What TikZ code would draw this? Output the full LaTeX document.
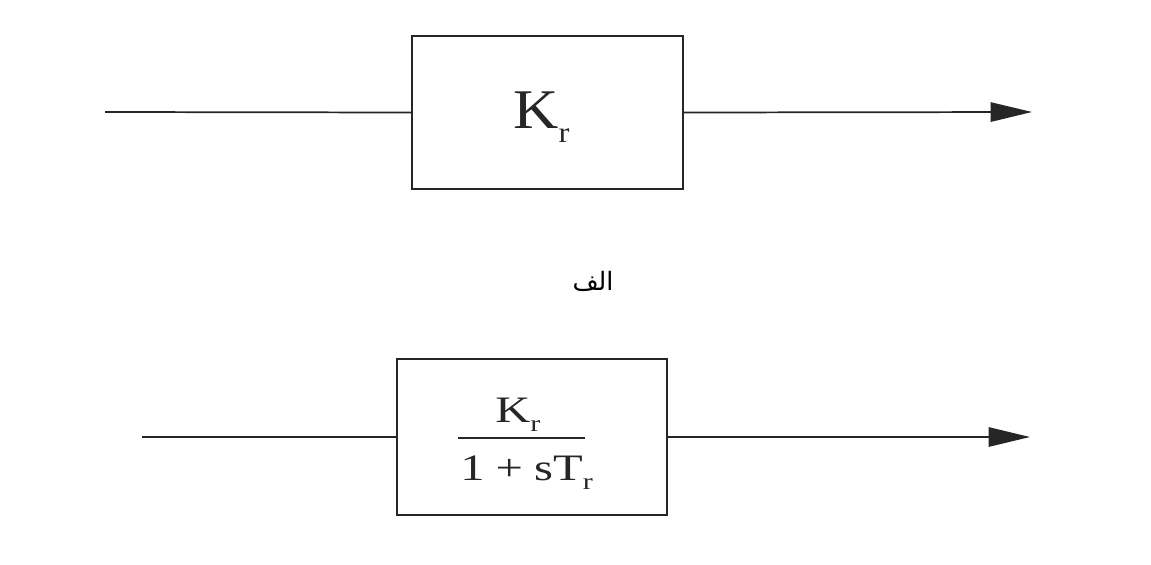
\documentclass[tikz,border=0pt]{standalone}
\usepackage{fontspec}
\setmainfont{Liberation Serif}
\newfontfamily\arabicfont[Script=Arabic]{DejaVu Sans}
\TeXXeTstate=1
\usetikzlibrary{arrows.meta}
\definecolor{ink}{HTML}{262626}
\newcommand\subr[2]{\raisebox{-0.25em}{\scalebox{#1}{#2}}}
\begin{document}
\begin{tikzpicture}[x=0.75pt,y=-0.75pt,
  blockbox/.style={draw=ink,line width=1.3pt,inner sep=0pt},
  wire/.style={draw=ink,line width=1.3pt},
  sig/.style={wire,-{Triangle[length=31pt,width=14.5pt]}},
  lbl/.style={inner sep=0pt,text=ink}]
\useasboundingbox (0,0) rectangle (1151,564);
% top block
\node[blockbox,minimum width=203pt,minimum height=115pt] (ka) at (547.5,112.5) {};
\node[lbl,font=\fontsize{42}{42}\selectfont,anchor=base west] (kat) at (513,128)
  {\scalebox{1.12}[1]{K\subr{0.52}{r}}};
\coordinate (ain) at (105,112);
\coordinate (aout) at (1032,112);
\draw[wire] (ain) -- (ka.west);
\draw[sig] (ka.east) -- (aout);
% label
\node[lbl,text=black,font=\arabicfont\fontsize{19}{19}\selectfont] (alef) at (593,281) {\beginR الف\endR};
% bottom block
\node[blockbox,minimum width=202.5pt,minimum height=117pt] (kb) at (532,437) {};
\node[lbl,font=\fontsize{28}{28}\selectfont,anchor=base west] (num) at (495,422)
  {\scalebox{1.3}[1]{K\subr{0.62}{r}}};
\node[lbl,font=\fontsize{28}{28}\selectfont,anchor=base west] (den) at (460,480)
  {\scalebox{1.3}[1]{1\hspace{0.23em}+\hspace{0.23em}sT\subr{0.62}{r}}};
\draw[ink,line width=1.5pt] (458,438) -- (585,438);
\coordinate (bin) at (142,437);
\coordinate (bout) at (1030,437);
\draw[wire] (bin) -- (kb.west);
\draw[sig] (kb.east) -- (bout);
\end{tikzpicture}
\end{document}
